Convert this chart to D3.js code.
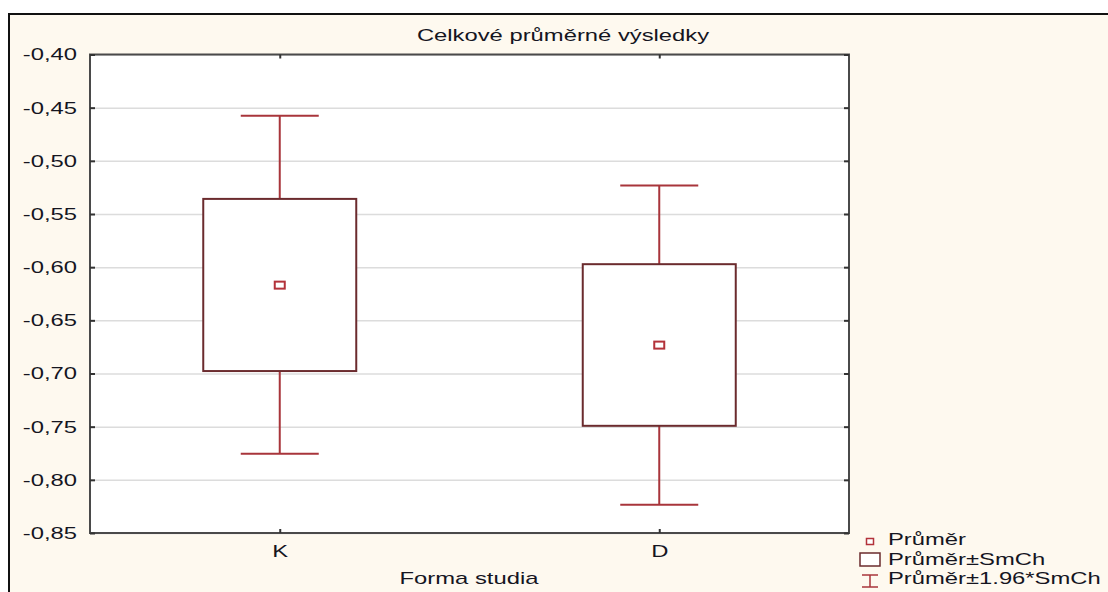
<!DOCTYPE html>
<html>
<head>
<meta charset="utf-8">
<script src="https://cdn.jsdelivr.net/npm/d3@7"></script>
<style>
  body { margin: 0; background: #fff; }
  text { font-family: "Liberation Sans", Arial, sans-serif; fill: #15151f; }
</style>
</head>
<body>
<svg id="chart" width="1108" height="592"></svg>
<script>
// data
var categories = ["K", "D"];
var means      = [-0.6169, -0.6733];
var boxHigh    = [-0.5358, -0.5972];   // mean + SE
var boxLow     = [-0.6977, -0.7492];   // mean - SE
var whiskHigh  = [-0.4575, -0.5233];   // mean + 1.96*SE
var whiskLow   = [-0.7755, -0.8234];   // mean - 1.96*SE
var yTicks     = [-0.40, -0.45, -0.50, -0.55, -0.60, -0.65, -0.70, -0.75, -0.80, -0.85];
var legendLabels = ["Průměr", "Průměr±SmCh", "Průměr±1.96*SmCh"];
var title = "Celkové průměrné výsledky";
var xTitle = "Forma studia";

var W = 1108, H = 592;
var plot = {left: 90, right: 849, top: 54.5, bottom: 533};
var SX = 1.4;  // the original text is drawn wide
var boxColor = "#6b2b2e", whiskColor = "#a8353b", meanColor = "#b3323a";

var svg = d3.select("#chart");

// outer frame
svg.append("rect").attr("x", 9).attr("y", 14).attr("width", W).attr("height", H)
  .attr("fill", "#fef9ef");
svg.append("line").attr("x1", 9).attr("x2", W).attr("y1", 14).attr("y2", 14)
  .attr("stroke", "#111").attr("stroke-width", 2);
svg.append("line").attr("x1", 9).attr("x2", 9).attr("y1", 13).attr("y2", H)
  .attr("stroke", "#111").attr("stroke-width", 2);

var y = d3.scaleLinear().domain([-0.85, -0.40]).range([plot.bottom, plot.top]);
var x = d3.scalePoint().domain(categories).range([plot.left, plot.right]).padding(0.5);
var fmt = function(d){ return d3.format(".2f")(d).replace(".", ",").replace("−", "-"); };

function wideText(sel){
  sel.attr("font-family", "Liberation Sans, Arial, sans-serif")
     .attr("font-size", 17)
     .attr("fill", "#15151f");
}

// plot background
svg.append("rect").attr("x", plot.left).attr("y", plot.top)
  .attr("width", plot.right - plot.left).attr("height", plot.bottom - plot.top)
  .attr("fill", "#fff");

// grid
var grid = svg.append("g").attr("transform", "translate(" + plot.left + ",0)")
  .call(d3.axisLeft(y).tickValues(yTicks).tickSize(-(plot.right - plot.left)).tickFormat(""));
grid.select(".domain").remove();
grid.selectAll("line").attr("stroke", "#dcdcdc").attr("stroke-width", 1.5);

// title
svg.append("text").attr("transform", "translate(563,41) scale(" + SX + ",1)")
  .attr("text-anchor", "middle").text(title).call(wideText);

// whiskers
var g = svg.append("g");
categories.forEach(function(c, i){
  var cx = x(c);
  g.append("line").attr("x1", cx).attr("x2", cx).attr("y1", y(whiskHigh[i])).attr("y2", y(whiskLow[i]))
    .attr("stroke", whiskColor).attr("stroke-width", 2);
  [whiskHigh[i], whiskLow[i]].forEach(function(v){
    g.append("line").attr("x1", cx - 39).attr("x2", cx + 39).attr("y1", y(v)).attr("y2", y(v))
      .attr("stroke", whiskColor).attr("stroke-width", 2);
  });
  g.append("rect").attr("x", cx - 76.5).attr("width", 153)
    .attr("y", y(boxHigh[i])).attr("height", y(boxLow[i]) - y(boxHigh[i]))
    .attr("fill", "#fff").attr("stroke", boxColor).attr("stroke-width", 2);
  g.append("rect").attr("x", cx - 5).attr("width", 10)
    .attr("y", y(means[i]) - 3.5).attr("height", 7)
    .attr("fill", "#fff").attr("stroke", meanColor).attr("stroke-width", 2);
});

// plot border
svg.append("rect").attr("x", plot.left).attr("y", plot.top)
  .attr("width", plot.right - plot.left).attr("height", plot.bottom - plot.top)
  .attr("fill", "none").attr("stroke", "#4a4a4a").attr("stroke-width", 2);

// axes
var yAxis = svg.append("g").attr("transform", "translate(" + plot.left + ",0)")
  .call(d3.axisLeft(y).tickValues(yTicks).tickSize(-5).tickPadding(9.3).tickFormat(fmt));
yAxis.select(".domain").remove();
yAxis.selectAll("line").attr("stroke", "#333").attr("stroke-width", 2);
yAxis.selectAll("text").attr("transform", "scale(" + SX + ",1)").call(wideText);

var yAxisR = svg.append("g").attr("transform", "translate(" + plot.right + ",0)")
  .call(d3.axisRight(y).tickValues(yTicks).tickSize(-5).tickFormat(""));
yAxisR.select(".domain").remove();
yAxisR.selectAll("line").attr("stroke", "#333").attr("stroke-width", 2);

var xAxis = svg.append("g").attr("transform", "translate(0," + plot.bottom + ")")
  .call(d3.axisBottom(x).tickSize(-4).tickPadding(12));
xAxis.select(".domain").remove();
xAxis.selectAll("line").attr("stroke", "#333").attr("stroke-width", 2);
xAxis.selectAll("text").attr("transform", "scale(" + SX + ",1)").call(wideText);

var xAxisT = svg.append("g").attr("transform", "translate(0," + plot.top + ")")
  .call(d3.axisTop(x).tickSize(-4).tickFormat(""));
xAxisT.select(".domain").remove();
xAxisT.selectAll("line").attr("stroke", "#333").attr("stroke-width", 2);

// x title
svg.append("text").attr("transform", "translate(469,584) scale(" + SX + ",1)")
  .attr("text-anchor", "middle").text(xTitle).call(wideText);

// legend
var lg = svg.append("g").attr("transform", "translate(870,0)");
var rowY = [545, 564.5, 584];
lg.append("rect").attr("x", -3.5).attr("y", 538.5).attr("width", 7).attr("height", 6)
  .attr("fill", "#fff").attr("stroke", meanColor).attr("stroke-width", 1.5);
lg.append("rect").attr("x", -10).attr("y", 553).attr("width", 20).attr("height", 13)
  .attr("fill", "#fff").attr("stroke", boxColor).attr("stroke-width", 1.5);
lg.append("line").attr("x1", 0).attr("x2", 0).attr("y1", 575).attr("y2", 587)
  .attr("stroke", whiskColor).attr("stroke-width", 1.5);
lg.append("line").attr("x1", -8).attr("x2", 8).attr("y1", 575).attr("y2", 575)
  .attr("stroke", whiskColor).attr("stroke-width", 1.5);
lg.append("line").attr("x1", -8).attr("x2", 8).attr("y1", 587).attr("y2", 587)
  .attr("stroke", whiskColor).attr("stroke-width", 1.5);
legendLabels.forEach(function(t, i){
  lg.append("text").attr("transform", "translate(18," + rowY[i] + ") scale(" + SX + ",1)")
    .text(t).call(wideText);
});
</script>
</body>
</html>
